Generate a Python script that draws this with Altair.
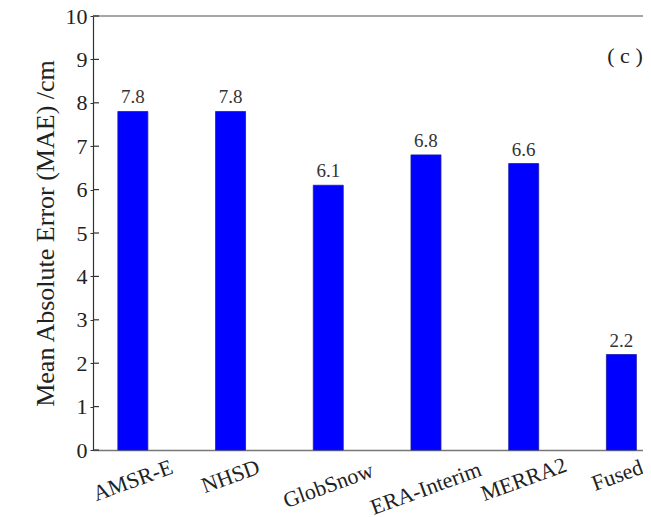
import altair as alt
import pandas as pd

products = ["AMSR-E", "NHSD", "GlobSnow", "ERA-Interim", "MERRA2", "Fused"]
mae = [7.8, 7.8, 6.1, 6.8, 6.6, 2.2]
mae_labels = ["7.8", "7.8", "6.1", "6.8", "6.6", "2.2"]
y_ticks = [0, 1, 2, 3, 4, 5, 6, 7, 8, 9, 10]
panel_label = ["( c )"]
y_title = "Mean Absolute Error (MAE) /cm"

df = pd.DataFrame({"product": products, "mae": mae, "label": mae_labels})
tick_df = pd.DataFrame({"mae": y_ticks})
top_df = pd.DataFrame({"mae": [max(y_ticks)]})
panel_df = pd.DataFrame({"s": panel_label})

FONT = "Liberation Serif"
TXT = "#222222"

x_scale = alt.Scale(domain=products, paddingInner=0.693, paddingOuter=0.161, align=0.79)
y_scale = alt.Scale(domain=[0, 10], nice=False, zero=True)

x_label_pad = {
    "condition": [
        {"test": "datum.label == 'AMSR-E'", "value": 30},
        {"test": "datum.label == 'NHSD'", "value": 26},
        {"test": "datum.label == 'GlobSnow'", "value": 35},
        {"test": "datum.label == 'ERA-Interim'", "value": 38},
        {"test": "datum.label == 'MERRA2'", "value": 29},
    ],
    "value": 25,
}
x_label_off = {
    "condition": {"test": "datum.label == 'Fused'", "value": -4},
    "value": 0,
}

x_axis = alt.Axis(
    orient="bottom",
    title=None,
    labelAngle=340,
    labelAlign="center",
    labelBaseline="middle",
    labelPadding=x_label_pad,
    labelOffset=x_label_off,
    ticks=False,
    tickSize=0,
    domainColor="#777777",
    domainWidth=1.5,
    labelFont=FONT,
    labelFontSize=22,
    labelColor=TXT,
)
y_axis = alt.Axis(
    orient="left",
    title=y_title,
    values=y_ticks,
    grid=False,
    tickSize=3,
    tickColor="#333333",
    domainColor="#333333",
    domainWidth=1.2,
    labelFont=FONT,
    labelFontSize=22,
    labelColor=TXT,
    labelPadding=3,
    titleFont=FONT,
    titleFontSize=26,
    titleFontWeight="normal",
    titleColor=TXT,
    titlePadding=7,
)

bars = alt.Chart(df).mark_bar(color="#0000ff", stroke="#1c1ca8", strokeWidth=0.8).encode(
    x=alt.X("product:N", scale=x_scale, sort=products, axis=x_axis),
    y=alt.Y("mae:Q", scale=y_scale, axis=y_axis),
)

texts = alt.Chart(df).mark_text(
    font=FONT, fontSize=19, dy=-8, baseline="alphabetic", align="center", color="#333333"
).encode(
    x=alt.X("product:N", scale=x_scale, sort=products, axis=x_axis),
    y=alt.Y("mae:Q", scale=y_scale, axis=y_axis),
    text="label:N",
)

top_line = alt.Chart(top_df).mark_rule(color="#888888", strokeWidth=1.5).encode(
    y=alt.Y("mae:Q", scale=y_scale, axis=y_axis),
    x=alt.value(0),
    x2=alt.value(550),
)

inner_ticks = alt.Chart(tick_df).mark_rule(color="#333333", strokeWidth=1.2).encode(
    y=alt.Y("mae:Q", scale=y_scale, axis=y_axis),
    x=alt.value(0),
    x2=alt.value(6),
)

panel = alt.Chart(panel_df).mark_text(
    font=FONT, fontSize=22, align="center", baseline="alphabetic", color=TXT
).encode(
    x=alt.value(532),
    y=alt.value(47),
    text="s:N",
)

chart = alt.layer(bars, texts, top_line, inner_ticks, panel).properties(
    width=550,
    height=434,
    autosize="none",
    padding={"left": 85, "top": 8, "right": 0, "bottom": 65},
).configure_view(stroke="transparent", strokeWidth=0)

chart.save("out.html", embed_options={"renderer": "svg", "actions": False})
